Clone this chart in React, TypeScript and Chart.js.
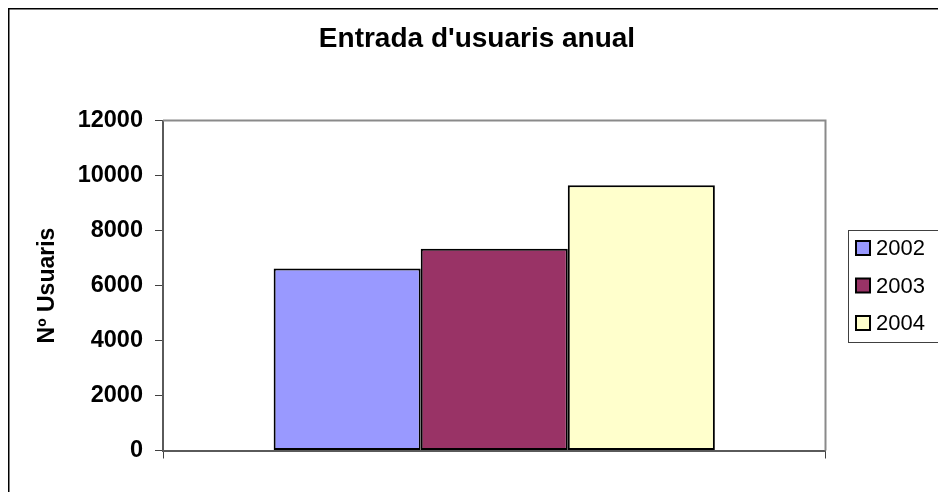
import React, { useEffect, useRef } from 'react';
import { Chart, registerables } from 'chart.js';

Chart.register(...registerables);

// ---- data ----
const categories = [''];
const seriesLabels = ['2002', '2003', '2004'];
const seriesValues = [6620, 7340, 9650];
const seriesColors = ['#9999FF', '#993366', '#FFFFCC'];
const yMin = 0;
const yMax = 12000;
const yStep = 2000;
const titleText = "Entrada d'usuaris anual";
const yAxisTitle = 'Nº Usuaris';

const FONT = "'Liberation Sans', Arial, Helvetica, sans-serif";

export default function App() {
  const ref = useRef<HTMLCanvasElement>(null);

  useEffect(() => {
    const canvas = ref.current;
    if (!canvas) return;
    Chart.defaults.font.family = FONT;

    const decorations = {
      id: 'decorations',
      beforeDraw(chart: any) {
        const { ctx } = chart;
        ctx.save();
        ctx.fillStyle = '#ffffff';
        ctx.fillRect(0, 0, chart.width, chart.height);
        ctx.strokeStyle = '#000000';
        ctx.lineWidth = 1.5;
        ctx.strokeRect(0.75, 0.75, chart.width + 20, chart.height + 20);
        ctx.restore();
      },
      beforeDatasetsDraw(chart: any) {
        const { ctx, chartArea: a } = chart;
        ctx.save();
        ctx.strokeStyle = '#8a8a8a';
        ctx.lineWidth = 2;
        ctx.beginPath();
        ctx.moveTo(a.left, a.top);
        ctx.lineTo(a.right, a.top);
        ctx.lineTo(a.right, a.bottom);
        ctx.stroke();
        ctx.restore();
      },
      afterDraw(chart: any) {
        const { ctx, chartArea: a } = chart;
        const datasets = chart.data.datasets;
        const left = Math.round(a.right + 22.5);
        const center = (a.top + a.bottom) / 2;
        const rowGap = 37.5;
        const boxH = 112;
        const top = Math.round(center - boxH / 2);
        ctx.save();
        ctx.strokeStyle = '#404040';
        ctx.lineWidth = 1;
        ctx.strokeRect(left + 0.5, top + 0.5, 300, boxH);
        ctx.font = `22px ${FONT}`;
        ctx.textBaseline = 'middle';
        ctx.textAlign = 'left';
        datasets.forEach((ds: any, i: number) => {
          const cy = center + (i - (datasets.length - 1) / 2) * rowGap;
          ctx.fillStyle = ds.backgroundColor;
          ctx.fillRect(left + 8, cy - 7, 14, 14);
          ctx.strokeStyle = '#000';
          ctx.lineWidth = 2;
          ctx.strokeRect(left + 8, cy - 7, 14, 14);
          ctx.fillStyle = '#000';
          ctx.fillText(ds.label, left + 28, cy + 1);
        });
        ctx.restore();
      },
    };

    const chart = new Chart(canvas, {
      type: 'bar',
      data: {
        labels: categories,
        datasets: seriesLabels.map((label, i) => ({
          label,
          data: [seriesValues[i]],
          backgroundColor: seriesColors[i],
          borderColor: '#000000',
          borderWidth: 2,
          borderSkipped: false,
          categoryPercentage: 0.666,
          barPercentage: 1,
        })),
      },
      options: {
        responsive: false,
        animation: false,
        events: [],
        layout: { padding: { left: 0, top: 0, right: 0, bottom: 41.5 } },
        plugins: {
          legend: { display: false },
          tooltip: { enabled: false },
          title: {
            display: true,
            text: titleText,
            color: '#000000',
            font: { family: FONT, size: 28, weight: 'bold' },
            padding: { top: 14.7, bottom: 64.2 },
          },
        },
        scales: {
          x: {
            ticks: { display: false },
            grid: {
              drawOnChartArea: false,
              drawTicks: true,
              tickLength: 8,
              color: '#404040',
              lineWidth: 1,
              offset: true,
            },
            border: { color: '#5a5a5a', width: 2 },
            afterFit: (s: any) => {
              s.height = 8;
            },
          },
          y: {
            min: yMin,
            max: yMax,
            ticks: {
              stepSize: yStep,
              color: '#000000',
              padding: 12,
              font: { family: FONT, size: 23.5, weight: 'bold' },
              callback: (v: any) => String(v),
            },
            grid: {
              drawOnChartArea: false,
              drawTicks: true,
              tickLength: 8,
              color: '#404040',
              lineWidth: 1,
            },
            border: { color: '#5a5a5a', width: 2 },
            title: {
              display: true,
              text: yAxisTitle,
              color: '#000000',
              font: { family: FONT, size: 23, weight: 'bold' },
              padding: { top: 26.2, bottom: 0 },
            },
            afterFit: (s: any) => {
              s.width = 155;
            },
          },
          pad: {
            type: 'linear',
            position: 'right',
            display: true,
            grid: { display: false },
            ticks: { display: false },
            border: { display: false },
            afterFit: (s: any) => {
              s.width = 120.5;
            },
          },
        },
      },
      plugins: [decorations],
    } as any);

    return () => chart.destroy();
  }, []);

  return (
    <div
      style={{
        position: 'fixed',
        left: 8,
        top: 8,
        width: 930,
        height: 484,
        overflow: 'hidden',
        background: '#fff',
      }}
    >
      <canvas
        ref={ref}
        width={938}
        height={492}
        style={{ display: 'block', width: 938, height: 492 }}
      />
    </div>
  );
}
